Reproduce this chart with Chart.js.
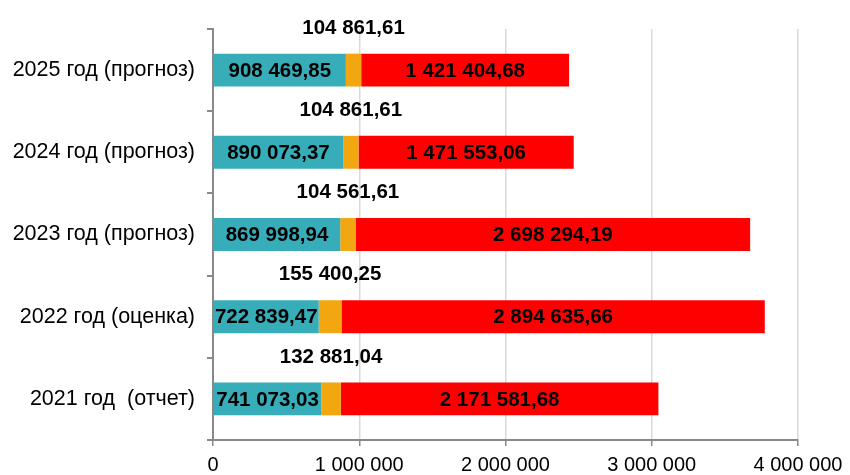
<!DOCTYPE html>
<html>
<head>
<meta charset="utf-8">
<script src="https://cdn.jsdelivr.net/npm/chart.js@4"></script>
<style>
  html, body { margin: 0; padding: 0; background: #fff; }
  #wrap { width: 850px; height: 475px; }
</style>
</head>
<body>
<div id="wrap"><canvas id="chart" width="850" height="475"></canvas></div>
<script>
'use strict';

// категории (снизу вверх)
const years = ['2021 год  (отчет)', '2022 год (оценка)', '2023 год (прогноз)', '2024 год (прогноз)', '2025 год (прогноз)'];
// значения рядов
const tealValues = [741073.03, 722839.47, 869998.94, 890073.37, 908469.85];
const orangeValues = [132881.04, 155400.25, 104561.61, 104861.61, 104861.61];
const redValues = [2171581.68, 2894635.66, 2698294.19, 1471553.06, 1421404.68];
// подписи оси X
const xTicks = [0, 1000000, 2000000, 3000000, 4000000];

const FONT = 'Liberation Sans, Arial, sans-serif';

// число с пробелом как разделителем тысяч и запятой
function fmt(v, dec) {
    const parts = v.toFixed(dec).split('.');
    const intPart = parts[0].replace(/\B(?=(\d{3})+(?!\d))/g, ' ');
    return parts.length > 1 ? intPart + ',' + parts[1] : intPart;
}

// подписи значений на сегментах
const barLabels = {
    id: 'barLabels',
    afterDatasetsDraw(chart) {
        const ctx = chart.ctx;
        ctx.save();
        ctx.font = 'bold 20.5px ' + FONT;
        ctx.fillStyle = '#000';
        ctx.textAlign = 'center';
        ctx.textBaseline = 'middle';
        chart.data.datasets.forEach((ds, di) => {
            const meta = chart.getDatasetMeta(di);
            meta.data.forEach((bar, i) => {
                const cx = (bar.x + bar.base) / 2;
                const text = fmt(ds.data[i], 2);
                if (di === 1) {
                    ctx.fillText(text, cx, bar.y - 42);
                } else {
                    ctx.fillText(text, cx, bar.y + 1);
                }
            });
        });
        ctx.restore();
    }
};

new Chart(document.getElementById('chart'), {
    type: 'bar',
    data: {
        labels: years,
        datasets: [
            { label: 'teal', data: tealValues, backgroundColor: '#36adb8' },
            { label: 'orange', data: orangeValues, backgroundColor: '#f2a60f' },
            { label: 'red', data: redValues, backgroundColor: '#ff0000' }
        ]
    },
    options: {
        indexAxis: 'y',
        responsive: false,
        animation: false,
        devicePixelRatio: 1,
        layout: { padding: { top: 29, right: 52, left: 0, bottom: 0 } },
        categoryPercentage: 1,
        barPercentage: 0.4,
        scales: {
            x: {
                stacked: true,
                min: 0,
                max: 4000000,
                afterBuildTicks: scale => { scale.ticks = xTicks.map(v => ({ value: v })); },
                afterFit: scale => { scale.height = 35; },
                border: { color: '#898989', width: 2 },
                grid: {
                    color: ctx => ctx.index === 0 ? 'rgba(0,0,0,0)' : '#d9d9d9',
                    lineWidth: 1.5,
                    tickColor: '#898989',
                    tickLength: 6
                },
                ticks: {
                    color: '#000',
                    font: { family: FONT, size: 20 },
                    padding: 7,
                    maxRotation: 0,
                    callback: v => fmt(v, 0)
                }
            },
            y: {
                stacked: true,
                reverse: true,
                afterFit: scale => { scale.width = 213; },
                border: { color: '#898989', width: 2 },
                grid: {
                    offset: true,
                    drawOnChartArea: false,
                    color: '#898989',
                    lineWidth: 2,
                    tickLength: 6
                },
                ticks: {
                    color: '#000',
                    font: { family: FONT, size: 21.5 },
                    padding: 12
                }
            }
        },
        plugins: {
            legend: { display: false },
            tooltip: { enabled: false }
        }
    },
    plugins: [barLabels]
});
</script>
</body>
</html>
